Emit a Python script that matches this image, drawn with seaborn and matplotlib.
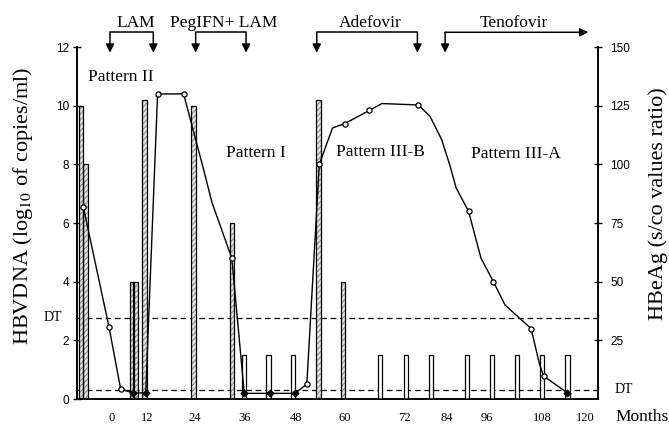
import numpy as np
import pandas as pd
import seaborn as sns
import matplotlib.pyplot as plt
from matplotlib.transforms import blended_transform_factory

# x tick labels and where they sit on the (hand drawn) month axis
tick_labels = ["0", "12", "24", "36", "48", "60", "72", "84", "96", "108", "120"]
tick_pos = [0, 9.16, 21.44, 34.3, 47.43, 60.04, 75.22, 86.21, 96.5, 110.65, 121.8]

# HBVDNA bars (left axis, log10 copies/ml)
dna_month = [-7.9, -6.74, 5.17, 6.12, 8.39, 21.1, 30.88, 53.17, 59.44]
dna_value = [10, 8, 4, 4, 10.2, 10, 6, 10.2, 4]

# undetectable HBVDNA (open bars)
undet_month = [34.0, 40.35, 46.6, 69.04, 75.73, 82.17, 91.35, 97.79, 104.22, 110.65, 117.29]
undet_value = [1.5] * 11

# HBeAg line (right axis, s/co ratio); mark: o = open, f = filled, n = no marker
heag_month = [-7.3, -0.7, 2.3, 5.4, 8.75, 11.8, 18.5, 23.5, 25.8, 30.9,
              34.1, 40.7, 47.2, 50.2, 53.4, 56.8, 60.0, 66.3, 69.5, 78.9,
              81.9, 84.9, 87.1, 88.6, 91.8, 95.0, 98.2, 101.2, 107.9, 110.0,
              111.1, 117.2]
heag_value = [81.8, 30.7, 4.3, 2.6, 2.6, 130, 130, 98.7, 83.7, 60,
              2.4, 2.4, 2.4, 6.4, 100, 115.5, 117.4, 123, 125.9, 125.3,
              120.4, 110.5, 99, 90, 80, 60, 50, 40, 30, 15.2,
              9.8, 2.6]
heag_mark = ["o", "o", "o", "f", "f", "o", "o", "n", "n", "o",
             "f", "f", "f", "o", "o", "n", "o", "o", "n", "o",
             "n", "n", "n", "n", "o", "n", "o", "n", "o", "n",
             "o", "f"]

dt_high = 2.77
dt_low = 0.32

# treatments: (label, start, end, text x)
treatments = [("LAM", -0.44, 10.7, 6.25),
              ("PegIFN+ LAM", 21.6, 34.56, 28.8),
              ("Adefovir", 52.75, 78.64, 66.47)]
tenofovir = ("Tenofovir", 85.77, 122.6, 103.35)

patterns = [("Pattern II", 2.44, 10.85),
            ("Pattern I", 37.2, 8.25),
            ("Pattern III-B", 69.2, 8.27),
            ("Pattern III-A", 104.0, 8.21)]

line_df = pd.DataFrame({"month": heag_month, "hbeag": heag_value, "mark": heag_mark})

sns.set_style("ticks", rc={"axes.edgecolor": "black", "text.color": "black",
                           "xtick.color": "black", "ytick.color": "black"})
plt.rcParams["font.family"] = ["Liberation Serif", "DejaVu Serif"]
plt.rcParams["mathtext.fontset"] = "stix"
plt.rcParams["hatch.linewidth"] = 0.8

fig = plt.figure(figsize=(6.69, 4.26), dpi=100)
ax = fig.add_axes([0.11584, 0.06338, 0.77803, 0.82629])
ax2 = ax.twinx()

# bars
bw = 1.15
ax.bar(dna_month, dna_value, width=bw, color="#e4e4e4", edgecolor="#8a8a8a",
       hatch="//////", linewidth=0, zorder=2)
ax.bar(dna_month, dna_value, width=bw, fill=False, edgecolor="black", linewidth=0.9, zorder=3)
ax.bar(undet_month, undet_value, width=bw, color="white", edgecolor="black", linewidth=0.9, zorder=3)

# detection thresholds
for v in (dt_high, dt_low):
    ax.axhline(v, color="black", lw=0.9, ls=(0, (4.5, 3)), zorder=1)
ax.text(-0.047, dt_high, "DT", transform=blended_transform_factory(ax.transAxes, ax.transData),
        ha="center", va="center", fontsize=10)
ax.text(1.05, dt_low, "DT", transform=blended_transform_factory(ax.transAxes, ax.transData),
        ha="center", va="center", fontsize=10)

# HBeAg line
sns.lineplot(data=line_df, x="month", y="hbeag", ax=ax2, color="black", lw=1,
             sort=False, estimator=None, zorder=4)
sns.scatterplot(data=line_df[line_df["mark"] == "o"], x="month", y="hbeag", ax=ax2,
                marker="o", s=14, color="white", edgecolor="black", linewidth=0.9, zorder=5)
sns.scatterplot(data=line_df[line_df["mark"] == "f"], x="month", y="hbeag", ax=ax2,
                marker="D", s=14, color="black", edgecolor="black", linewidth=0.5, zorder=5)

ax.set_xlim(-8.8, 125.1)
ax.set_ylim(0, 12)
ax2.set_ylim(0, 150)

ax.set_xticks(tick_pos, labels=tick_labels)
ax.tick_params(axis="x", length=0, pad=9, labelsize=9)
ax.set_yticks(range(0, 13, 2))
ax.tick_params(axis="y", direction="inout", length=6, width=1, labelsize=8.5, pad=3)
ax2.set_yticks(range(25, 151, 25))
ax2.tick_params(axis="y", direction="inout", length=6, width=1, labelsize=8.5, pad=6)
for lbl in ax.get_yticklabels() + ax2.get_yticklabels():
    lbl.set_fontfamily(["Liberation Sans", "DejaVu Sans"])

for a in (ax, ax2):
    a.spines["top"].set_visible(False)
    for s in ("left", "right", "bottom"):
        a.spines[s].set_linewidth(1.1)
    a.set_xlabel("")
    a.set_ylabel("")

ax.text(-0.1047, 0.548, "HBVDNA (log$_{10}$ of copies/ml)", transform=ax.transAxes,
        rotation=90, ha="center", va="center", fontsize=16)
ax.text(1.1153, 0.555, "HBeAg (s/co values ratio)", transform=ax.transAxes,
        rotation=90, ha="center", va="center", fontsize=16)
ax.text(1.0845, -0.05, "Months", transform=ax.transAxes, ha="center", va="center", fontsize=12.5)

# treatment brackets above the plot
tr = blended_transform_factory(ax.transData, ax.transAxes)
y_bar, y_tip = 1.0418, 0.9838
arrow = dict(arrowstyle="-|>,head_length=0.5,head_width=0.25", color="black", lw=1.1,
             shrinkA=0, shrinkB=0)
for name, x0, x1, xt in treatments:
    ax.plot([x0, x1], [y_bar, y_bar], transform=tr, color="black", lw=1.1, clip_on=False)
    for xx in (x0, x1):
        ax.annotate("", xy=(xx, y_tip), xytext=(xx, y_bar), xycoords=tr, textcoords=tr,
                    arrowprops=arrow, annotation_clip=False)
    ax.text(xt, 1.056, name, transform=tr, ha="center", va="baseline", fontsize=12.5)

name, x0, x1, xt = tenofovir
ax.annotate("", xy=(x0, y_tip), xytext=(x0, y_bar), xycoords=tr, textcoords=tr,
            arrowprops=arrow, annotation_clip=False)
ax.annotate("", xy=(x1, y_bar), xytext=(x0, y_bar), xycoords=tr, textcoords=tr,
            arrowprops=arrow, annotation_clip=False)
ax.text(xt, 1.056, name, transform=tr, ha="center", va="baseline", fontsize=12.5)

for name, xp, yp in patterns:
    ax.text(xp, yp, name, ha="center", va="baseline", fontsize=12.5)

fig.savefig("out.png", dpi=100)
